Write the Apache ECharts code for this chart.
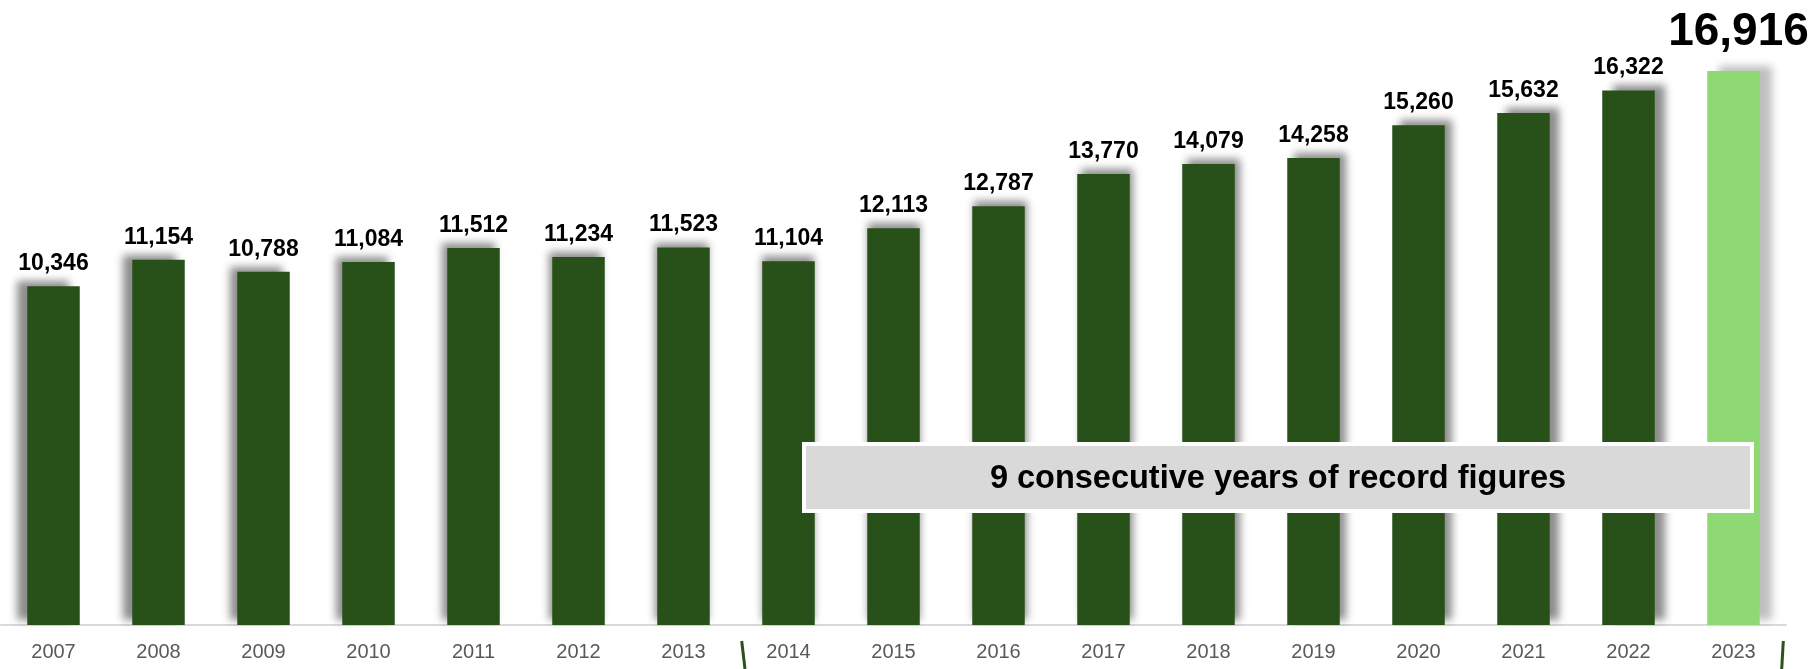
<!DOCTYPE html>
<html>
<head>
<meta charset="utf-8">
<style>
html,body{margin:0;padding:0;background:#fff;}
#chart{width:1814px;height:669px;}
</style>
<script src="https://cdn.jsdelivr.net/npm/echarts@6/dist/echarts.min.js"></script>
</head>
<body>
<div id="chart"></div>
<script>
const years = ['2007','2008','2009','2010','2011','2012','2013','2014','2015','2016','2017','2018','2019','2020','2021','2022','2023'];
const values = [10346,11154,10788,11084,11512,11234,11523,11104,12113,12787,13770,14079,14258,15260,15632,16322,16916];
const highlightYear = '2023';
const noteText = '9 consecutive years of record figures';

const darkGreen = '#28511a';
const lightGreen = '#8ed973';

const chart = echarts.init(document.getElementById('chart'));
const n = values.length;
const data = values.map((v, i) => {
  const isHi = years[i] === highlightYear;
  const item = {
    value: v,
    itemStyle: {
      color: isHi ? lightGreen : darkGreen,
      shadowColor: isHi ? 'rgba(0,0,0,0.25)' : 'rgba(0,0,0,0.45)',
      shadowBlur: 8,
      shadowOffsetX: (i - (n - 2) / 2) * 1.4,
      shadowOffsetY: -5
    }
  };
  if (isHi) {
    item.label = { fontSize: 46, distance: 16, offset: [5, 0] };
  }
  return item;
});

chart.setOption({
  animation: false,
  grid: { left: 1, right: 28, top: 35.5, bottom: 44 },
  xAxis: {
    type: 'category',
    data: years,
    axisTick: { show: false },
    axisLine: { lineStyle: { color: '#d9d9d9', width: 2 } },
    axisLabel: { color: '#595959', fontSize: 20, fontFamily: 'Liberation Sans', margin: 17 }
  },
  yAxis: {
    type: 'value',
    min: 0,
    max: 18000,
    show: false,
    splitLine: { show: false }
  },
  series: [{
    type: 'bar',
    barWidth: '50%',
    data: data,
    label: {
      show: true,
      position: 'top',
      distance: 11,
      color: '#000',
      fontWeight: 'bold',
      fontSize: 23,
      fontFamily: 'Liberation Sans',
      formatter: p => p.value.toLocaleString('en-US')
    }
  }],
  graphic: [
    {
      type: 'rect',
      shape: { x: 804, y: 444, width: 948, height: 67 },
      style: { fill: '#d9d9d9', stroke: '#ffffff', lineWidth: 4 },
      z: 100
    },
    {
      type: 'text',
      x: 1278, y: 479,
      style: {
        text: noteText,
        fill: '#000',
        font: 'bold 32.5px "Liberation Sans"',
        align: 'center',
        verticalAlign: 'middle'
      },
      z: 101
    },
    {
      type: 'line',
      shape: { x1: 741.7, y1: 641, x2: 745, y2: 669 },
      style: { stroke: '#2a5219', lineWidth: 3 }
    },
    {
      type: 'line',
      shape: { x1: 1783.3, y1: 641, x2: 1781.7, y2: 669 },
      style: { stroke: '#2a5219', lineWidth: 3 }
    }
  ]
});
</script>
</body>
</html>
